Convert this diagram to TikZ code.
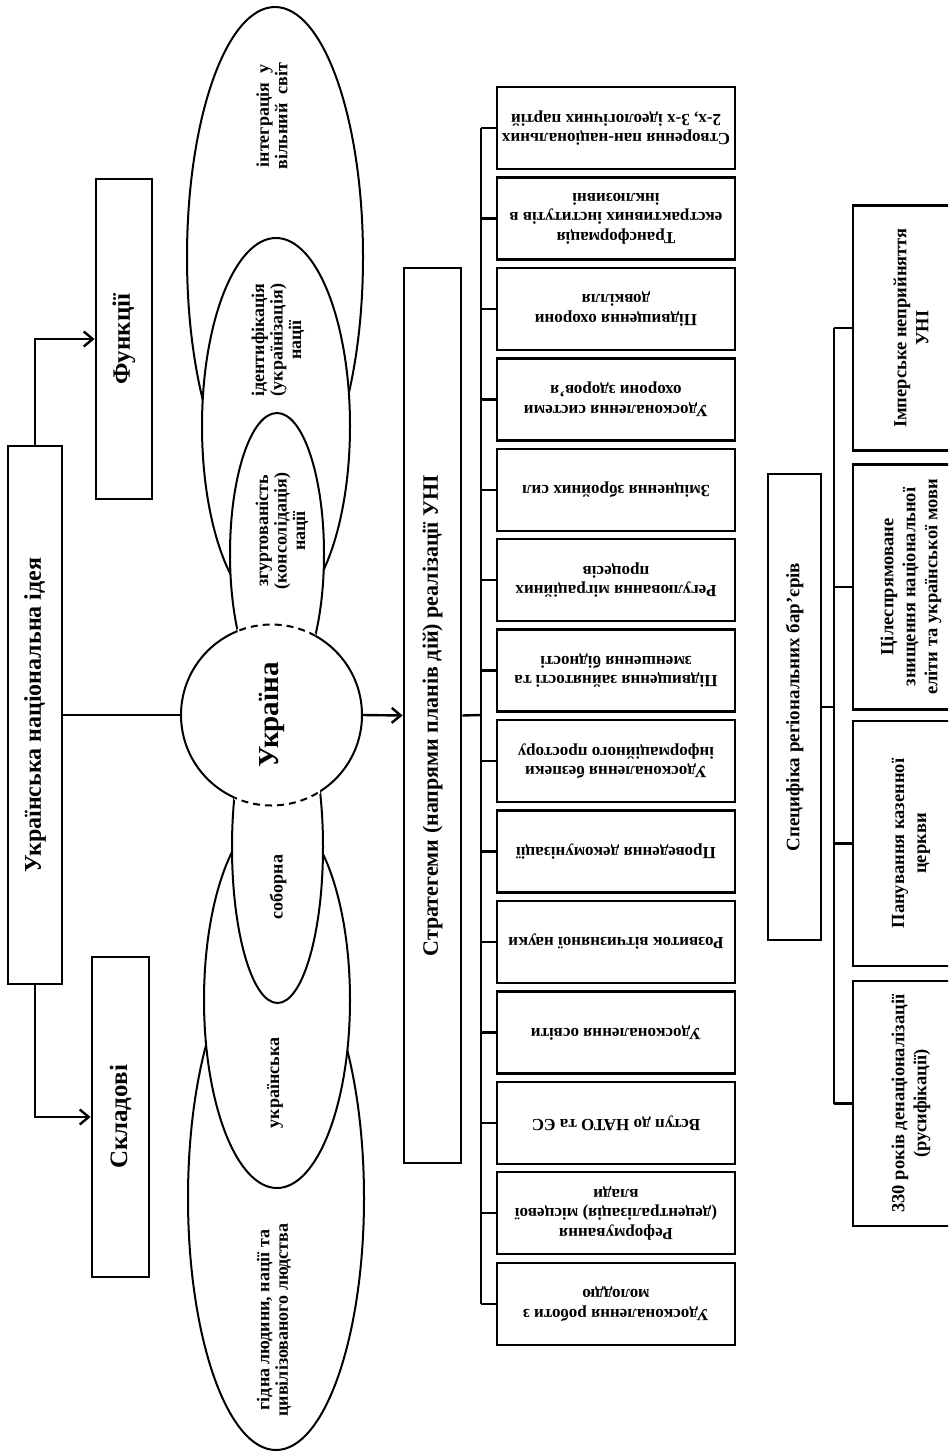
\documentclass[tikz,border=0pt]{standalone}
\usepackage{fontspec}
\setmainfont{Liberation Serif}
\usepackage{tikz}
\usetikzlibrary{arrows.meta,calc,positioning}

\begin{document}
\begin{tikzpicture}[
    x=1pt, y=-1pt,
    nosep/.style={inner sep=0},
    box/.style={draw, line width=2.8pt, fill=white, nosep, align=center},
    vbox/.style={box, rotate=90},
    sbox/.style={box, rotate=180, minimum width=238pt, minimum height=82pt,
        font=\fontsize{17}{19.5}\selectfont\bfseries},
    rbox/.style={box, rotate=90, minimum width=245pt, minimum height=116pt,
        font=\fontsize{18.5}{22}\selectfont\bfseries},
    oval/.style={draw, line width=2pt, fill=white},
    otext/.style={rotate=90, align=center, nosep, font=\fontsize{18}{18.5}\selectfont\bfseries},
    link/.style={draw, line width=2.4pt},
    arr/.style={link, -{Straight Barb[length=9pt,width=15pt]}}]
\useasboundingbox (0,0) rectangle (948,1453);
\clip (0,0) rectangle (948,1453);

\node[vbox, minimum width=538pt, minimum height=54pt, font=\fontsize{24}{28}\selectfont\bfseries] (idea) at (35,715) {Українська національна ідея};
\node[vbox, minimum width=320pt, minimum height=56pt, font=\fontsize{25}{29}\selectfont\bfseries] (func) at (124,339) {Функції};
\node[vbox, minimum width=320pt, minimum height=57pt, font=\fontsize{25}{29}\selectfont\bfseries] (parts) at (120.5,1117) {Складові};

\path[oval] (275,257) ellipse [x radius=88pt, y radius=250pt];
\path[oval] (276,426) ellipse [x radius=74pt, y radius=188pt];
\path[oval] (277,554) ellipse [x radius=47pt, y radius=141pt];
\path[oval] (276,1198) ellipse [x radius=88pt, y radius=252pt];
\path[oval] (277,1000) ellipse [x radius=73pt, y radius=188pt];
\path[oval] (277.5,847) ellipse [x radius=45.5pt, y radius=156pt];

\node[circle, draw, line width=2pt, fill=white, nosep, minimum size=181pt, rotate=90, font=\fontsize{29}{33}\selectfont\bfseries] (ukr) at (271.5,715) {Україна};
\begin{scope}
\clip (277,554) ellipse [x radius=47pt, y radius=141pt];
\path[draw, white, line width=4pt] (ukr.center) circle [radius=90.5pt];
\path[draw, line width=2pt, dash pattern=on 7pt off 5pt] (ukr.center) circle [radius=90.5pt];
\end{scope}
\begin{scope}
\clip (277.5,847) ellipse [x radius=45.5pt, y radius=156pt];
\path[draw, white, line width=4pt] (ukr.center) circle [radius=90.5pt];
\path[draw, line width=2pt, dash pattern=on 7pt off 5pt] (ukr.center) circle [radius=90.5pt];
\end{scope}

\node[otext] (integr) at (272,116) {інтеграція\ \ у\\вільний\ \ світ};
\node[otext] (ident) at (278,340) {ідентифікація\\(українізація)\\нації};
\node[otext] (consol) at (282,531) {згуртованість\\(консолідація)\\нації};
\node[otext] (sobor) at (278,887) {соборна};
\node[otext] (ukrn) at (275,1083) {українська};
\node[otext] (human) at (274,1320) {гідна людини, нації та\\цивілізованого людства};

\node[vbox, minimum width=895pt, minimum height=57pt, font=\fontsize{22}{26}\selectfont\bfseries] (strat) at (432.5,715.5) {Стратегеми (напрями планів дій) реалізації УНІ};

\node[sbox] (s1) at (616,128) {Створення пан-національних\\2-х, 3-х ідеологічних партій};
\node[sbox] (s2) at (616,218.5) {Трансформація\\екстрактивних інститутів в\\інклюзивні};
\node[sbox] (s3) at (616,309) {Підвищення охорони\\довкілля};
\node[sbox] (s4) at (616,399.5) {Удосконалення системи\\охорони здоров'я};
\node[sbox] (s5) at (616,490) {Зміцнення збройних сил};
\node[sbox] (s6) at (616,580) {Регулювання міграційних\\процесів};
\node[sbox] (s7) at (616,670.5) {Підвищення зайнятості та\\зменшення бідності};
\node[sbox] (s8) at (616,761) {Удосконалення безпеки\\інформаційного простору};
\node[sbox] (s9) at (616,851.5) {Проведення декомунізації};
\node[sbox] (s10) at (616,942) {Розвиток вітчизняної науки};
\node[sbox] (s11) at (616,1032.5) {Удосконалення освіти};
\node[sbox] (s12) at (616,1123) {Вступ до НАТО та ЄС};
\node[sbox] (s13) at (616,1213) {Реформування\\(децентралізація) місцевої\\влади};
\node[sbox] (s14) at (616,1304) {Удосконалення роботи з\\молоддю};

\node[vbox, minimum width=466pt, minimum height=53pt, font=\fontsize{19}{23}\selectfont\bfseries] (spec) at (794.5,707) {Специфіка регіональних бар'єрів};

\node[rbox] (r1) at (911,328) {Імперське неприйняття\\УНІ};
\node[rbox] (r2) at (911,587) {Цілеспрямоване\\знищення національної\\еліти та української мови};
\node[rbox] (r3) at (911,843.5) {Панування казенної\\церкви};
\node[rbox] (r4) at (911,1103.5) {330 років денаціоналізації\\(русифікації)};

\coordinate (busL) at (481,715);
\coordinate (busR) at (834,707);

\path[arr] (idea.east) |- (func.north);
\path[arr] (idea.west) |- (parts.north);
\path[link] (idea.south) -- (ukr.north);
\path[arr] (ukr.south) -- (strat.north);
\path[link] (strat.south) -- (busL);
\path[link] (s1.east -| busL) -- (s14.east -| busL);
\path[link] (s1.east) -- (s1.east -| busL);
\path[link] (s2.east) -- (s2.east -| busL);
\path[link] (s3.east) -- (s3.east -| busL);
\path[link] (s4.east) -- (s4.east -| busL);
\path[link] (s5.east) -- (s5.east -| busL);
\path[link] (s6.east) -- (s6.east -| busL);
\path[link] (s7.east) -- (s7.east -| busL);
\path[link] (s8.east) -- (s8.east -| busL);
\path[link] (s9.east) -- (s9.east -| busL);
\path[link] (s10.east) -- (s10.east -| busL);
\path[link] (s11.east) -- (s11.east -| busL);
\path[link] (s12.east) -- (s12.east -| busL);
\path[link] (s13.east) -- (s13.east -| busL);
\path[link] (s14.east) -- (s14.east -| busL);
\path[link] (spec.south) -- (busR);
\path[link] (r1.north -| busR) -- (r4.north -| busR);
\path[link] (r1.north) -- (r1.north -| busR);
\path[link] (r2.north) -- (r2.north -| busR);
\path[link] (r3.north) -- (r3.north -| busR);
\path[link] (r4.north) -- (r4.north -| busR);

\end{tikzpicture}
\end{document}
